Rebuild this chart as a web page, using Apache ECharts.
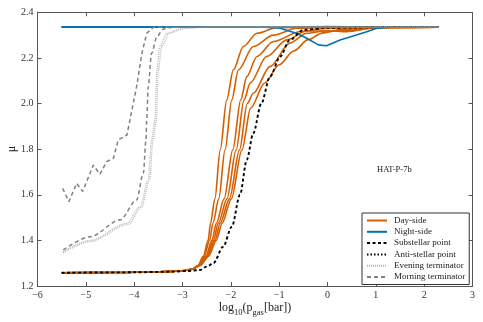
<!DOCTYPE html>
<html>
<head>
<meta charset="utf-8">
<script src="https://cdn.jsdelivr.net/npm/echarts@6/dist/echarts.min.js"></script>
<style>html,body{margin:0;padding:0;background:#fff}#c{width:483px;height:322px}</style>
</head>
<body>
<div id="c"></div>
<script>
// ---- data ----
var xTicks = [-6, -5, -4, -3, -2, -1, 0, 1, 2, 3];
var yTicks = [1.2, 1.4, 1.6, 1.8, 2.0, 2.2, 2.4];
var planetName = 'HAT-P-7b';
var legendNames = ['Day-side', 'Night-side', 'Substellar point', 'Anti-stellar point', 'Evening terminator', 'Morning terminator'];

var dayBase = [[-5.5,1.258],[-4.5,1.259],[-3.5,1.262],[-3.2,1.264],[-2.95,1.268],[-2.8,1.274]];
var day1 = [[-2.68,1.29],[-2.57,1.33],[-2.47,1.40],[-2.42,1.475],[-2.33,1.582],[-2.22,1.797],[-2.085,2.016],[-1.95,2.147],[-1.74,2.25],[-1.46,2.308],[-1.05,2.333],[0,2.337],[1,2.336],[2.3,2.335]];
var day2 = [[-2.67,1.29],[-2.55,1.33],[-2.44,1.40],[-2.37,1.475],[-2.25,1.582],[-2.12,1.797],[-1.98,2.016],[-1.845,2.147],[-1.535,2.25],[-1.12,2.30],[-0.64,2.33],[0.2,2.336],[1,2.336],[2.3,2.335]];
var day3 = [[-2.66,1.29],[-2.52,1.33],[-2.39,1.40],[-2.30,1.475],[-2.14,1.582],[-1.96,1.797],[-1.795,2.016],[-1.67,2.118],[-1.46,2.206],[-1.12,2.272],[-0.57,2.315],[0,2.33],[0.6,2.333],[2.3,2.335]];
var day4 = [[-2.65,1.29],[-2.50,1.33],[-2.36,1.40],[-2.26,1.475],[-2.08,1.582],[-1.89,1.797],[-1.727,2.016],[-1.60,2.09],[-1.26,2.206],[-0.84,2.279],[-0.43,2.318],[0,2.318],[0.5,2.322],[1,2.333],[2.3,2.335]];
var day5 = [[-2.64,1.29],[-2.48,1.33],[-2.33,1.40],[-2.22,1.475],[-2.03,1.582],[-1.82,1.797],[-1.66,2.0],[-1.535,2.045],[-1.19,2.162],[-0.78,2.265],[-0.43,2.308],[0,2.32],[0.4,2.315],[1,2.332],[2.3,2.335]];
var day6 = [[-2.63,1.29],[-2.46,1.33],[-2.30,1.40],[-2.18,1.475],[-1.99,1.582],[-1.77,1.797],[-1.59,1.98],[-1.3,2.09],[-1.0,2.17],[-0.7,2.23],[-0.4,2.28],[-0.1,2.31],[0.3,2.325],[1,2.334],[2.3,2.335]];

var night1 = [[-5.5,2.335],[2.3,2.335]];
var night2 = [[-5.5,2.335],[-1.3,2.335],[-0.98,2.33],[-0.64,2.308],[-0.43,2.286],[-0.19,2.257],[-0.02,2.253],[0.26,2.279],[0.53,2.296],[0.81,2.315],[1.02,2.33],[1.3,2.335],[2.3,2.335]];

var substellar = [[-5.5,1.258],[-4,1.26],[-3.2,1.263],[-2.9,1.266],[-2.64,1.27],[-2.5,1.285],[-2.36,1.30],[-2.16,1.372],[-1.98,1.46],[-1.81,1.60],[-1.67,1.753],[-1.535,1.87],[-1.37,2.0],[-1.19,2.118],[-0.98,2.206],[-0.78,2.279],[-0.5,2.323],[0,2.332],[0.5,2.333],[1,2.335],[2.3,2.335]];
var antistellar = [[-5.5,2.335],[2.3,2.335]];

var evening1 = [[-5.47,1.35],[-4.91,1.40],[-4.15,1.475],[-3.88,1.548],[-3.71,1.665],[-3.64,1.84],[-3.57,1.928],[-3.53,2.147],[-3.47,2.25],[-3.33,2.308],[-3.0,2.33],[-2.5,2.335],[2.3,2.335]];
var evening2 = [[-5.47,1.345],[-4.91,1.395],[-4.12,1.47],[-3.85,1.545],[-3.68,1.665],[-3.61,1.84],[-3.54,1.928],[-3.5,2.147],[-3.43,2.25],[-3.28,2.308],[-2.95,2.33],[-2.4,2.335],[2.3,2.335]];

var morning1 = [[-5.48,1.628],[-5.35,1.57],[-5.19,1.65],[-5.065,1.615],[-4.845,1.73],[-4.71,1.69],[-4.57,1.745],[-4.43,1.76],[-4.33,1.84],[-4.15,1.862],[-3.95,2.074],[-3.84,2.22],[-3.74,2.308],[-3.6,2.335],[2.3,2.335]];
var morning2 = [[-5.47,1.358],[-4.91,1.416],[-4.29,1.49],[-3.95,1.577],[-3.81,1.694],[-3.755,1.84],[-3.74,1.928],[-3.71,2.074],[-3.64,2.22],[-3.53,2.293],[-3.4,2.326],[-3.2,2.335],[2.3,2.335]];

// ---- styling ----
var ORANGE = '#D55E00', BLUE = '#0072B2';
var FONT = 'Liberation Serif';
var AX = '#555';

function mk(name, data, color, width, type, smooth) {
  return {
    name: name, type: 'line', data: data, symbol: 'none', showSymbol: false,
    smooth: smooth ? 0.3 : false,
    smoothMonotone: smooth ? 'x' : undefined,
    lineStyle: { color: color, width: width, type: type },
    itemStyle: { color: color },
    animation: false
  };
}

var series = [];
[day1, day2, day3, day4, day5, day6].forEach(function (d) {
  series.push(mk(legendNames[0], dayBase.concat(d), ORANGE, 1.6, 'solid', true));
});
series.push(mk(legendNames[3], antistellar, '#000', 1.6, [1.5, 2], false));
[night1, night2].forEach(function (d) {
  series.push(mk(legendNames[1], d, BLUE, 1.6, 'solid', false));
});
series.push(mk(legendNames[2], substellar, '#000', 1.9, [3, 2.5], true));
[evening1, evening2].forEach(function (d) {
  series.push(mk(legendNames[4], d, '#b5b5b5', 1.2, [1, 1], true));
});
series.push(mk(legendNames[5], morning1, '#808080', 1.5, [4, 3], false));
series.push(mk(legendNames[5], morning2, '#808080', 1.5, [4, 3], true));

var fmtMinus = function (v) { return String(v).replace('-', '\u2212'); };

var chart = echarts.init(document.getElementById('c'), null, { renderer: 'canvas' });
chart.setOption({
  animation: false,
  backgroundColor: '#fff',
  textStyle: { fontFamily: FONT },
  grid: { left: 37.5, right: 10.5, top: 12.3, bottom: 36, containLabel: false, outerBoundsMode: 'none' },
  legend: {
    data: legendNames,
    orient: 'vertical', left: 362, top: 213,
    itemWidth: 20, itemHeight: 9, itemGap: 2.3,
    padding: [3, 4, 3, 4],
    borderColor: '#333', borderWidth: 1, borderRadius: 0,
    backgroundColor: '#fff',
    itemStyle: { opacity: 0 },
    textStyle: { fontFamily: FONT, fontSize: 9, color: '#222', padding: [0, 0, 0, 2] },
    selectedMode: false
  },
  xAxis: [{
    type: 'value', min: xTicks[0], max: xTicks[xTicks.length - 1], interval: 1,
    position: 'bottom',
    name: '{a|log}{s|10}{a|(p}{s|gas}{a|[bar])}',
    nameLocation: 'middle', nameGap: 12, nameMoveOverlap: false,
    nameTextStyle: {
      rich: {
        a: { fontFamily: FONT, fontSize: 12, color: '#222', verticalAlign: 'bottom', lineHeight: 16 },
        s: { fontFamily: FONT, fontSize: 8.5, color: '#222', verticalAlign: 'bottom', lineHeight: 16, padding: [0, 0, -3, 0] }
      }
    },
    axisLine: { onZero: false, lineStyle: { color: AX, width: 1 } },
    axisTick: { inside: true, length: 4, lineStyle: { color: AX } },
    axisLabel: { fontFamily: FONT, fontSize: 10, color: '#333', margin: 4, formatter: fmtMinus },
    splitLine: { show: false }
  }, {
    type: 'value', min: xTicks[0], max: xTicks[xTicks.length - 1], interval: 1,
    position: 'top',
    axisLine: { show: true, onZero: false, lineStyle: { color: AX, width: 1 } },
    axisTick: { inside: true, length: 4, lineStyle: { color: AX } },
    axisLabel: { show: false }, splitLine: { show: false }
  }],
  yAxis: [{
    type: 'value', min: yTicks[0], max: yTicks[yTicks.length - 1], interval: 0.2,
    position: 'left',
    name: '\u03bc', nameLocation: 'middle', nameGap: 20, nameRotate: 90, nameMoveOverlap: false,
    nameTextStyle: { fontFamily: FONT, fontSize: 12, color: '#222' },
    axisLine: { show: true, onZero: false, lineStyle: { color: AX, width: 1 } },
    axisTick: { show: true, inside: true, length: 4, lineStyle: { color: AX } },
    axisLabel: { fontFamily: FONT, fontSize: 10, color: '#333', margin: 4, formatter: function (v) { return v.toFixed(1); } },
    splitLine: { show: false }
  }, {
    type: 'value', min: yTicks[0], max: yTicks[yTicks.length - 1], interval: 0.2,
    position: 'right',
    axisLine: { show: true, onZero: false, lineStyle: { color: AX, width: 1 } },
    axisTick: { show: true, inside: true, length: 4, lineStyle: { color: AX } },
    axisLabel: { show: false }, splitLine: { show: false }
  }],
  graphic: [{
    type: 'text', left: 377, top: 165,
    style: { text: planetName, font: '8.5px "Liberation Serif"', fill: '#222' }
  }],
  series: series
});
</script>
</body>
</html>
